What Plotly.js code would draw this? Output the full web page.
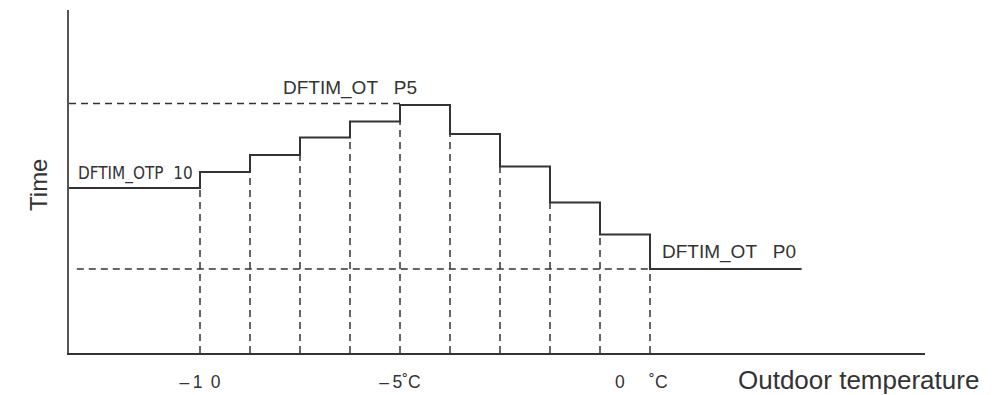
<!DOCTYPE html>
<html>
<head>
<meta charset="utf-8">
<script src="https://cdn.plot.ly/plotly-3.0.1.min.js"></script>
<style>html,body{margin:0;padding:0;background:#fff;}#chart{width:1005px;height:395px;}</style>
</head>
<body>
<div id="chart"></div>
<script>
// ---- data (outdoor temperature in °C, defrost time in arbitrary units) ----
const stepTemps = [-10, -8.75, -7.5, -6.25, -5, -3.75, -2.5, -1.25, 0, 1.25];
const stepTimes = [165, 181, 198, 215.5, 231.5, 248, 219, 186.5, 150.5, 118.5, 84];
const lineStartTemp = -13.275;
const lineEndTemp = 5.04;
const p5Time = 249.5;
const p0Time = 84;
const p0DashStart = -13.08;
const tickTemps = [-10, -5, 0];
const NB = '\u00A0';
const TH = '\u2009';
const tickLabels = ['\u2013' + TH + '1' + NB + TH + '0', '\u2013' + TH + '5\u02DAC', NB.repeat(17) + '0' + NB.repeat(5) + '\u02DAC'];
const labelP10 = 'DFTIM_OTP' + NB + NB + '10';
const labelP5 = 'DFTIM_OT' + NB + NB + NB + 'P5';
const labelP0 = 'DFTIM_OT' + NB + NB + NB + 'P0';
const xTitle = 'Outdoor temperature';
const yTitle = 'Time';
const xRange = [-13.275, 8.125];
const yRange = [0, 343];

// ---- build traces ----
const stepX = [lineStartTemp].concat(stepTemps, [lineEndTemp]);
const stepY = stepTimes.concat([stepTimes[stepTimes.length - 1]]);

const vx = [], vy = [];
stepTemps.forEach((t, i) => {
  const low = Math.min(stepTimes[i], stepTimes[i + 1]);
  vx.push(t, t, null);
  vy.push(0, low, null);
});

const dashStyle = {color: '#333', width: 1.5, dash: '7px,5px'};
const traces = [
  {x: vx, y: vy, mode: 'lines', line: dashStyle, hoverinfo: 'skip', showlegend: false},
  {x: [lineStartTemp, stepTemps[4]], y: [p5Time, p5Time], mode: 'lines', line: dashStyle, hoverinfo: 'skip', showlegend: false},
  {x: [p0DashStart, stepTemps[9]], y: [p0Time, p0Time], mode: 'lines', line: dashStyle, hoverinfo: 'skip', showlegend: false},
  {x: stepX, y: stepY, mode: 'lines', line: {color: '#333', width: 2, shape: 'hv'}, hoverinfo: 'skip', showlegend: false}
];

const mainFont = 'Liberation Sans, Arial, sans-serif';
const layout = {
  width: 1005, height: 395,
  margin: {l: 69, r: 80, t: 10, b: 42},
  paper_bgcolor: '#fff', plot_bgcolor: '#fff',
  showlegend: false,
  xaxis: {
    range: xRange, showgrid: false, zeroline: false,
    showline: true, linecolor: '#333', linewidth: 2,
    ticks: '', tickmode: 'array', tickvals: tickTemps, ticktext: tickLabels,
    tickfont: {family: mainFont, size: 17.5, color: '#333'},
    ticklabelstandoff: 12
  },
  yaxis: {
    range: yRange, showgrid: false, zeroline: false,
    showline: true, linecolor: '#555', linewidth: 2,
    ticks: '', showticklabels: false
  },
  annotations: [
    {x: -13.1, y: 180, xref: 'x', yref: 'y', text: labelP10, showarrow: false, xanchor: 'left', yanchor: 'middle',
     font: {family: 'DejaVu Sans Condensed, Liberation Sans Narrow, sans-serif', size: 17, color: '#333'}},
    {x: -6.25, y: 265.5, xref: 'x', yref: 'y', text: labelP5, showarrow: false, xanchor: 'center', yanchor: 'middle',
     font: {family: mainFont, size: 19, color: '#333'}},
    {x: 1.5, y: 101, xref: 'x', yref: 'y', text: labelP0, showarrow: false, xanchor: 'left', yanchor: 'middle',
     font: {family: mainFont, size: 19, color: '#333'}},
    {x: 0.9227, y: -0.079, xref: 'paper', yref: 'paper', text: xTitle, showarrow: false, xanchor: 'center', yanchor: 'middle',
     font: {family: mainFont, size: 26, color: '#333'}},
    {x: -0.035, y: 0.49, xref: 'paper', yref: 'paper', text: yTitle, showarrow: false, textangle: -90, xanchor: 'center', yanchor: 'middle',
     font: {family: mainFont, size: 24, color: '#333'}}
  ]
};

Plotly.newPlot('chart', traces, layout, {displayModeBar: false, staticPlot: true});
</script>
</body>
</html>
